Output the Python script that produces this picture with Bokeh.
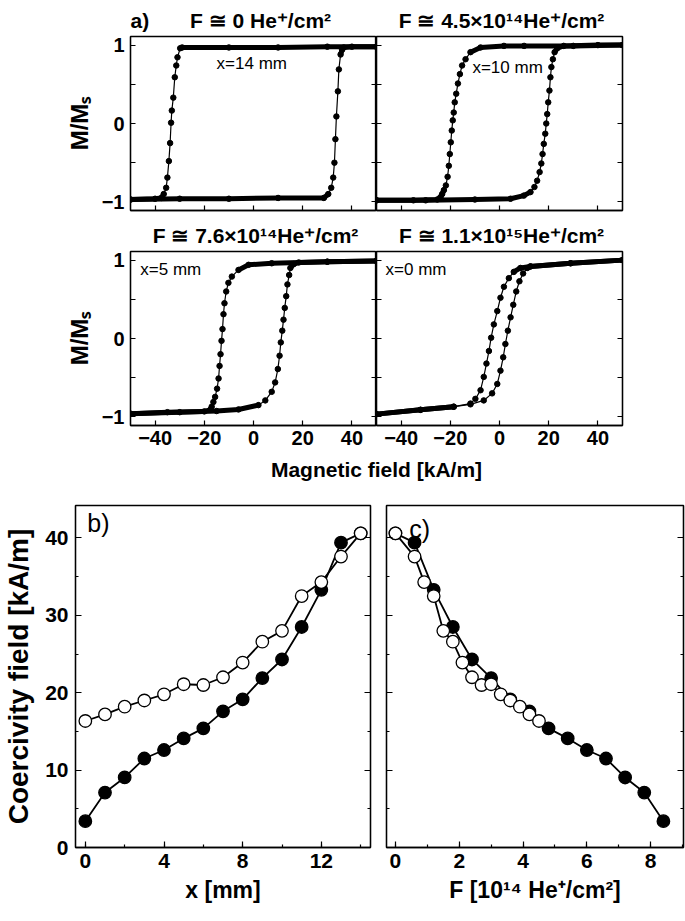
import numpy as np
from bokeh.plotting import figure
from bokeh.models import Range1d, LinearAxis, FixedTicker, SingleIntervalTicker, Label, Title
from bokeh.layouts import column, row
from bokeh.embed import file_html
from bokeh.resources import INLINE

FONT = "Liberation Sans"

# ---------------- data: a) hysteresis loops (field kA/m, M/Ms) ----------------
# panel 1: F ~ 0, x = 14 mm
p1_desc_H = [50, 30, 10, -10, -29.0, -29.8, -30.9, -31.4, -32.0, -32.6, -33.2, -33.5, -33.9, -34.4, -35.0, -35.5, -36.5, -37.5, -40, -50]
p1_desc_M = [0.98, 0.98, 0.97, 0.97, 0.97, 0.96, 0.845, 0.74, 0.59, 0.33, 0.165, 0.01, -0.25, -0.48, -0.69, -0.82, -0.90, -0.95, -0.96, -0.97]
p1_asc_H = [-50, -30, -10, 10, 28.6, 30.4, 31.6, 32.4, 32.9, 33.3, 33.7, 34.3, 34.7, 35.4, 36.0, 36.7, 40, 50]
p1_asc_M = [-0.97, -0.96, -0.96, -0.95, -0.95, -0.90, -0.82, -0.69, -0.50, -0.20, 0.09, 0.41, 0.69, 0.88, 0.94, 0.97, 0.98, 0.98]

# panel 2: F ~ 4.5e14, x = 10 mm
p2_desc_H = [50, 30, 10, 1.8, -7.7, -11.8, -13.8, -15.2, -16.1, -16.9, -17.6, -18.2, -18.6, -19.0, -19.4, -19.8, -20.2, -20.6, -21.1, -21.8, -22.6, -23.3, -24.0, -25.3, -35, -50]
p2_desc_M = [1.0, 0.99, 0.99, 0.99, 0.97, 0.91, 0.82, 0.74, 0.63, 0.51, 0.38, 0.27, 0.14, 0.04, -0.09, -0.24, -0.39, -0.54, -0.68, -0.79, -0.85, -0.90, -0.94, -0.97, -0.98, -0.98]
p2_asc_H = [-50, -30, -10, 4.5, 9.9, 12.6, 14.2, 15.3, 16.3, 17.0, 17.5, 18.0, 18.6, 19.0, 19.4, 19.8, 20.3, 20.7, 21.1, 21.7, 22.4, 23.5, 26.1, 40, 50]
p2_asc_M = [-0.98, -0.98, -0.97, -0.96, -0.92, -0.875, -0.81, -0.73, -0.62, -0.51, -0.39, -0.26, -0.13, 0.0, 0.12, 0.27, 0.42, 0.59, 0.72, 0.82, 0.91, 0.96, 0.99, 1.0, 1.0]

# panel 3: F ~ 7.6e14, x = 5 mm
p3_desc_H = [50, 30, 7.4, -2.0, -6.1, -8.8, -10.2, -11.1, -11.8, -12.2, -12.6, -13.0, -13.4, -13.8, -14.2, -14.8, -15.6, -16.3, -17.0, -17.6, -20, -35, -50]
p3_desc_M = [0.99, 0.98, 0.96, 0.94, 0.875, 0.79, 0.71, 0.60, 0.45, 0.31, 0.12, -0.03, -0.20, -0.35, -0.51, -0.64, -0.745, -0.81, -0.87, -0.91, -0.93, -0.94, -0.96]
p3_asc_H = [-50, -30, -15, -6.1, 2.0, 4.8, 7.4, 8.8, 9.9, 10.6, 11.1, 11.7, 12.2, 12.7, 13.3, 13.8, 14.5, 15.0, 16.4, 18.4, 30, 50]
p3_asc_M = [-0.96, -0.94, -0.925, -0.905, -0.85, -0.79, -0.68, -0.56, -0.39, -0.22, -0.05, 0.10, 0.24, 0.39, 0.54, 0.69, 0.81, 0.90, 0.95, 0.97, 0.98, 0.99]

# panel 4: F ~ 1.1e15, x = 0 mm
p4_desc_H = [50, 28.9, 12.6, 8.5, 5.8, 3.8, 1.8, 0.4, -0.9, -2.3, -3.4, -4.3, -5.3, -6.4, -7.7, -9.8, -11.8, -18.6, -32.1, -50]
p4_desc_M = [1.0, 0.96, 0.92, 0.90, 0.85, 0.77, 0.66, 0.52, 0.35, 0.18, 0.01, -0.16, -0.32, -0.49, -0.66, -0.77, -0.83, -0.87, -0.91, -0.965]
p4_asc_H = [-50, -32.1, -18.6, -11.8, -6.4, -3.0, -0.9, 0.4, 1.5, 2.4, 3.4, 4.5, 5.6, 6.8, 8.1, 9.6, 11.3, 12.6, 28.9, 50]
p4_asc_M = [-0.965, -0.91, -0.87, -0.84, -0.79, -0.70, -0.58, -0.41, -0.24, -0.07, 0.10, 0.27, 0.43, 0.60, 0.73, 0.83, 0.90, 0.92, 0.96, 1.0]

panel_titles = ["F \u2245 0 He\u207A/cm\u00B2",
                "F \u2245 4.5\u00D710\u00B9\u2074He\u207A/cm\u00B2",
                "F \u2245 7.6\u00D710\u00B9\u2074He\u207A/cm\u00B2",
                "F \u2245 1.1\u00D710\u00B9\u2075He\u207A/cm\u00B2"]
panel_notes = ["x=14 mm", "x=10 mm", "x=5 mm", "x=0 mm"]
note_pos_H = [-15, -11, -46, -46.3]
note_pos_M = [0.76, 0.72, 0.875, 0.875]

field_range = (-50, 50)
m_range = (-1.11, 1.11)
field_ticks = [-40, -20, 0, 20, 40]
m_ticks = [-1, 0, 1]
m_minor_ticks = [-0.5, 0.5]

# ---------------- data: b) and c) coercivity ----------------
x_mm = [0, 1, 2, 3, 4, 5, 6, 7, 8, 9, 10, 11, 12, 13, 14]
hc_filled_b = [3.4, 7.1, 9.05, 11.5, 12.6, 14.1, 15.4, 17.6, 19.15, 21.9, 24.3, 28.5, 33.3, 39.4, 40.6]
hc_open_b = [16.35, 17.2, 18.2, 19.0, 19.8, 21.1, 21.0, 22.0, 23.9, 26.6, 28.0, 32.5, 34.3, 37.6, 40.6]

f_filled_c = [0.0, 0.6, 1.2, 1.8, 2.4, 3.0, 3.6, 4.2, 4.8, 5.4, 6.0, 6.6, 7.2, 7.8, 8.4]
hc_filled_c = [40.6, 39.4, 33.3, 28.5, 24.3, 21.9, 19.15, 17.6, 15.4, 14.1, 12.6, 11.5, 9.05, 7.1, 3.4]
f_open_c = [0.0, 0.6, 0.9, 1.2, 1.5, 1.8, 2.1, 2.4, 2.7, 3.0, 3.3, 3.6, 3.9, 4.2, 4.5]
hc_open_c = [40.6, 37.6, 34.3, 32.5, 28.0, 26.6, 23.9, 22.0, 21.0, 21.1, 19.8, 19.0, 18.2, 17.2, 16.35]


# ---------------- helpers ----------------
def style_axis(ax, labels=True, size="20px", tick_in=5, minor_in=5):
    ax.major_tick_in = tick_in
    ax.major_tick_out = 0
    ax.minor_tick_in = minor_in
    ax.minor_tick_out = 0
    ax.axis_line_color = "black"
    ax.axis_line_width = 1.3
    ax.major_tick_line_color = "black"
    ax.minor_tick_line_color = "black"
    ax.major_tick_line_width = 1.2
    ax.minor_tick_line_width = 1.2
    if labels:
        ax.major_label_text_font = FONT
        ax.major_label_text_font_style = "bold"
        ax.major_label_text_font_size = size
        ax.major_label_text_color = "black"
    else:
        ax.major_label_text_color = None
        ax.major_label_text_font_size = "1px"
        ax.major_label_standoff = 0


def draw_loop(p, H_list, M_list):
    H = [float(h) for h in H_list]
    M = [float(m) for m in M_list]
    p.line(H, M, line_color="black", line_width=1.2)
    # saturated parts: the dense measured points merge into a thick band
    runs, cur = [], None
    for i in range(len(M) - 1):
        if abs(M[i]) >= 0.85 and abs(M[i + 1]) >= 0.85:
            if cur is None:
                cur = ([H[i]], [M[i]])
            cur[0].append(H[i + 1]); cur[1].append(M[i + 1])
        elif cur is not None:
            runs.append(cur); cur = None
    if cur is not None:
        runs.append(cur)
    if runs:
        p.multi_line([r[0] for r in runs], [r[1] for r in runs], line_color="black",
                     line_width=5, line_join="round", line_cap="round")
    p.scatter(H, M, size=5.5, marker="circle", fill_color="black", line_color="black")


def loop_figure(title, align, left_labels, bottom_labels, bl, br, bt, bb):
    p = figure(frame_width=246, frame_height=174,
               x_range=Range1d(*field_range), y_range=Range1d(*m_range),
               x_axis_type=None, y_axis_type=None,
               min_border_left=bl, min_border_right=br, min_border_top=bt, min_border_bottom=bb,
               output_backend="svg", toolbar_location=None)
    p.outline_line_color = "black"
    p.outline_line_width = 1.3
    p.title = Title(text=title, align=align, text_font=FONT, text_font_style="bold",
                    text_font_size="21px", text_color="black", standoff=10)

    xa = LinearAxis(ticker=FixedTicker(ticks=field_ticks))
    style_axis(xa, labels=bottom_labels)
    if bottom_labels:
        xa.major_label_standoff = 5
    p.add_layout(xa, "below")

    ya = LinearAxis(ticker=FixedTicker(ticks=m_ticks, minor_ticks=m_minor_ticks))
    style_axis(ya, labels=left_labels)
    if left_labels:
        ya.major_label_standoff = 6
        ya.axis_label = "M/M\u209B"
        ya.axis_label_text_font = FONT
        ya.axis_label_text_font_style = "bold"
        ya.axis_label_text_font_size = "24px"
        ya.axis_label_text_color = "black"
        ya.axis_label_standoff = 6
    p.add_layout(ya, "left")
    yr = LinearAxis(ticker=FixedTicker(ticks=m_ticks, minor_ticks=m_minor_ticks))
    style_axis(yr, labels=False)
    p.add_layout(yr, "right")
    return p


def add_note(p, i):
    p.add_layout(Label(x=note_pos_H[i], y=note_pos_M[i], text=panel_notes[i], text_align="left",
                       text_baseline="middle", text_font=FONT, text_font_size="17px",
                       text_color="black"))


NB = "\u00A0" * 7
loops = [(p1_desc_H, p1_desc_M, p1_asc_H, p1_asc_M),
         (p2_desc_H, p2_desc_M, p2_asc_H, p2_asc_M),
         (p3_desc_H, p3_desc_M, p3_asc_H, p3_asc_M),
         (p4_desc_H, p4_desc_M, p4_asc_H, p4_asc_M)]

fa = loop_figure("a)" + NB + panel_titles[0], "left", True, False, 130, 0, 36, 6)
fb = loop_figure(panel_titles[1], "center", False, False, 0, 10, 36, 6)
fc = loop_figure(panel_titles[2], "center", True, True, 130, 0, 29, 30)
fd = loop_figure(panel_titles[3], "center", False, True, 0, 10, 29, 30)
for i, f in enumerate([fa, fb, fc, fd]):
    dH, dM, aH, aM = loops[i]
    draw_loop(f, dH, dM)
    draw_loop(f, aH, aM)
    add_note(f, i)

# shared x-axis title of the four loops
flabel = figure(frame_width=492, frame_height=1, min_border_left=130, min_border_right=10,
                min_border_top=20, min_border_bottom=0, x_axis_type=None, y_axis_type=None,
                output_backend="svg", toolbar_location=None)
flabel.outline_line_color = None
flabel.title = Title(text="Magnetic field [kA/m]", align="center", text_font=FONT,
                     text_font_style="bold", text_font_size="21px", text_color="black", standoff=0)


# ---------------- b) and c) ----------------
def coercivity_figure(xr, fw, bl, br, xtick, xlabel, ylabel):
    p = figure(frame_width=fw, frame_height=342, x_range=Range1d(*xr), y_range=Range1d(0, 44.2),
               x_axis_type=None, y_axis_type=None,
               min_border_left=bl, min_border_right=br, min_border_top=24, min_border_bottom=62,
               output_backend="svg", toolbar_location=None)
    p.outline_line_color = "black"
    p.outline_line_width = 1.3
    xa = LinearAxis(ticker=SingleIntervalTicker(interval=xtick, num_minor_ticks=2))
    style_axis(xa, labels=True, size="21px", tick_in=6, minor_in=3)
    xa.major_label_standoff = 6
    xa.axis_label = xlabel
    xa.axis_label_text_font = FONT
    xa.axis_label_text_font_style = "bold"
    xa.axis_label_text_font_size = "23px"
    xa.axis_label_text_color = "black"
    xa.axis_label_standoff = 6
    p.add_layout(xa, "below")
    ya = LinearAxis(ticker=SingleIntervalTicker(interval=10, num_minor_ticks=2))
    style_axis(ya, labels=ylabel is not None, size="21px", tick_in=6, minor_in=3)
    if ylabel is not None:
        ya.major_label_standoff = 7
        ya.axis_label = ylabel
        ya.axis_label_text_font = FONT
        ya.axis_label_text_font_style = "bold"
        ya.axis_label_text_font_size = "28px"
        ya.axis_label_text_color = "black"
        ya.axis_label_standoff = 8
    p.add_layout(ya, "left")
    yr = LinearAxis(ticker=SingleIntervalTicker(interval=10, num_minor_ticks=2))
    style_axis(yr, labels=False, tick_in=6, minor_in=3)
    p.add_layout(yr, "right")
    return p


def draw_series(p, xs, ys, filled):
    p.line(xs, ys, line_color="black", line_width=1.8)
    p.scatter(xs, ys, size=12.5, marker="circle", line_color="black", line_width=1.3,
              fill_color="black" if filled else "white")


pb = coercivity_figure((-0.5, 14.5), 295, 73, 8, 4, "x [mm]", "Coercivity field [kA/m]")
draw_series(pb, x_mm, hc_filled_b, True)
draw_series(pb, x_mm, hc_open_b, False)
pb.add_layout(Label(x=0.1, y=41.9, text="b)", text_align="left", text_baseline="middle",
                    text_font=FONT, text_font_size="25px", text_color="black"))

pc = coercivity_figure((-0.28, 9.03), 297, 8, 2, 2,
                       "F [10\u00B9\u2074 He\u207A/cm\u00B2]", None)
draw_series(pc, f_filled_c, hc_filled_c, True)
draw_series(pc, f_open_c, hc_open_c, False)
pc.add_layout(Label(x=0.43, y=41.1, text="c)", text_align="left", text_baseline="middle",
                    text_font=FONT, text_font_size="25px", text_color="black"))

layout = column(row(fa, fb, spacing=0), row(fc, fd, spacing=0), flabel,
                row(pb, pc, spacing=0), spacing=0)

open("out.html", "w").write(file_html(layout, INLINE))
